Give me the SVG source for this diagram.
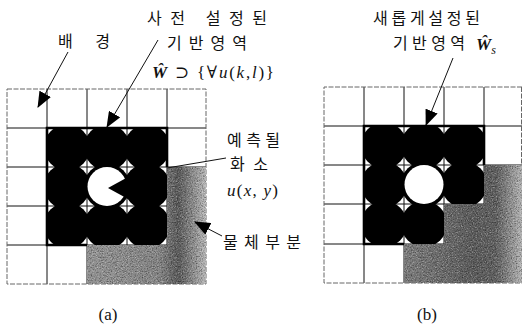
<svg xmlns="http://www.w3.org/2000/svg" width="522" height="332" viewBox="0 0 522 332">
<style>
.kr{font-family:"Noto Sans CJK KR","Noto Sans",sans-serif;font-size:16px;fill:#111}
.mt{font-family:"Liberation Serif","DejaVu Serif",serif;font-size:17px;fill:#111}
.it{font-style:italic}
.gl{stroke:#111;stroke-width:1;fill:none}
.edge{stroke:#666;stroke-width:1;fill:none;stroke-dasharray:5 1.5}
.bd{stroke:#000;stroke-width:2.6;fill:none}
.blk{fill:#000}
.wht{fill:#fff}
.ld{stroke:#111;stroke-width:1;fill:none}
.ar{stroke:#111;stroke-width:1;fill:none;marker-end:url(#ah)}
</style>
<defs>
<marker id="ah" markerUnits="userSpaceOnUse" markerWidth="16" markerHeight="13" refX="15" refY="6.5" orient="auto"><path d="M0,0 L16,6.5 L0,13 z" fill="#000"/></marker>
<linearGradient id="ga" gradientUnits="userSpaceOnUse" x1="87" y1="0" x2="207" y2="0">
<stop offset="0" stop-color="#959595"/><stop offset="0.6" stop-color="#888"/><stop offset="0.76" stop-color="#5a5a5a"/><stop offset="1" stop-color="#c0c0c0"/>
</linearGradient>
<linearGradient id="gb" gradientUnits="userSpaceOnUse" x1="404" y1="0" x2="522" y2="0">
<stop offset="0" stop-color="#7e7e7e"/><stop offset="0.6" stop-color="#5c5c5c"/><stop offset="0.78" stop-color="#606060"/><stop offset="1" stop-color="#b8b8b8"/>
</linearGradient>
<filter id="grain" x="0%" y="0%" width="100%" height="100%" color-interpolation-filters="sRGB">
<feTurbulence type="fractalNoise" baseFrequency="0.8" numOctaves="2" seed="7" result="t"/>
<feColorMatrix in="t" type="matrix" values="0 0 0 0 0  0 0 0 0 0  0 0 0 0 0  0 0 0 1.1 -0.5" result="dk"/>
<feColorMatrix in="t" type="matrix" values="0 0 0 0 1  0 0 0 0 1  0 0 0 0 1  1.1 0 0 0 -0.55" result="lt"/>
<feComposite in="dk" in2="SourceGraphic" operator="in" result="dk2"/>
<feComposite in="lt" in2="SourceGraphic" operator="in" result="lt2"/>
<feMerge><feMergeNode in="SourceGraphic"/><feMergeNode in="dk2"/><feMergeNode in="lt2"/></feMerge>
</filter>
<clipPath id="ca"><rect x="47" y="128" width="120" height="117"/></clipPath>
<clipPath id="cb"><polygon points="364,126 484,126 484,204 444,204 444,244 364,244"/></clipPath>
</defs>
<rect width="522" height="332" fill="#fff"/>

<g id="grid-a">
<path class="gl" d="M47,89V284M87,89V284M127,89V284M167,89V284M7,128H206M7,167H206M7,206H206M7,245H206"/>
<path class="edge" d="M7,89H206V284H7Z"/>
<path d="M167,167H206V284H87V245H167Z" fill="url(#ga)" filter="url(#grain)"/>
<g clip-path="url(#ca)" class="blk">
<circle cx="67" cy="147.5" r="23"/><circle cx="107" cy="147.5" r="23"/><circle cx="147" cy="147.5" r="23"/>
<circle cx="67" cy="186.5" r="23"/><circle cx="107" cy="186.5" r="23"/><circle cx="147" cy="186.5" r="23"/>
<circle cx="67" cy="225.5" r="23"/><circle cx="107" cy="225.5" r="23"/><circle cx="147" cy="225.5" r="23"/>
</g>
<circle id="pixel-a" class="wht" cx="107" cy="186.5" r="19.5"/>
<polyline class="bd" points="167,167 167,128 47,128 47,245 87,245"/>
</g>

<g id="grid-b">
<path class="gl" d="M364,87V283M404,87V283M444,87V283M484,87V283M324,126H522M324,165H522M324,204H522M324,244H522"/>
<path class="edge" d="M522,87H324V283H522M521.5,87V283"/>
<path d="M484,165H522V283H404V244H444V204H484Z" fill="url(#gb)" filter="url(#grain)"/>
<g clip-path="url(#cb)" class="blk">
<circle cx="384" cy="145.5" r="23"/><circle cx="424" cy="145.5" r="23"/><circle cx="464" cy="145.5" r="23"/>
<circle cx="384" cy="184.5" r="23"/><circle cx="424" cy="184.5" r="23"/><circle cx="464" cy="184.5" r="23"/>
<circle cx="384" cy="224" r="23"/><circle cx="424" cy="224" r="23"/>
</g>
<circle id="pixel-b" class="wht" cx="424" cy="184.5" r="19.5"/>
<polyline class="bd" points="484,165 484,126 364,126 364,244 404,244"/>
</g>

<g id="connectors">
<line class="ar" x1="68" y1="52" x2="38" y2="107"/>
<line class="ar" x1="158" y1="40" x2="107" y2="127"/>
<line class="ar" x1="453" y1="58" x2="426" y2="125"/>
<line class="ld" x1="226" y1="158" x2="167" y2="168"/>
<polygon class="blk" points="128,177 108,188 128,199"/>
<line class="ar" x1="222" y1="236" x2="195" y2="222"/>
</g>

<g id="label-bg"><text class="kr" font-size="17" x="58" y="47" textLength="52" lengthAdjust="spacing">배 경</text></g>
<g id="label-preset">
<text class="kr" font-size="17" x="147" y="24" textLength="120" lengthAdjust="spacing">사전 설정된</text>
<text class="kr" x="167" y="49" textLength="80" lengthAdjust="spacing">기반영역</text>
<text class="mt" x="152" y="78" textLength="122" lengthAdjust="spacing"><tspan class="it" font-weight="bold">Ŵ</tspan> ⊃ {∀<tspan class="it">u</tspan>(<tspan class="it">k</tspan>,<tspan class="it">l</tspan>)}</text>
</g>
<g id="label-pixel">
<text class="kr" font-size="17" x="227" y="146" textLength="53" lengthAdjust="spacing">예측될</text>
<text class="kr" font-size="17" x="230" y="170" textLength="38" lengthAdjust="spacing">화소</text>
<text class="mt" x="227" y="196" textLength="51" lengthAdjust="spacing"><tspan class="it">u</tspan>(<tspan class="it">x</tspan>, <tspan class="it">y</tspan>)</text>
</g>
<g id="label-object"><text class="kr" font-size="18" x="223" y="248" textLength="78" lengthAdjust="spacing">물체부분</text></g>
<g id="label-new">
<text class="kr" font-size="17" x="373" y="24" textLength="107" lengthAdjust="spacing">새롭게설정된</text>
<text class="kr" x="393" y="49" textLength="72" lengthAdjust="spacing">기반영역</text>
<text class="mt" x="476" y="50" font-size="18"><tspan class="it" font-weight="bold">Ŵ</tspan><tspan class="it" font-size="12" dy="4">s</tspan></text>
</g>
<g id="caption-a"><text class="mt" x="108" y="320" text-anchor="middle" font-size="20">(a)</text></g>
<g id="caption-b"><text class="mt" x="427" y="320" text-anchor="middle" font-size="20">(b)</text></g>
</svg>
